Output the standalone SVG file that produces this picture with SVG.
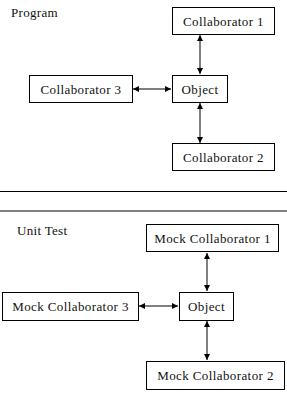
<svg xmlns="http://www.w3.org/2000/svg" width="287" height="394" viewBox="0 0 287 394">
<defs>
<style>
.box{fill:#fff;stroke:#000;stroke-width:1}
.t{font-family:'Liberation Serif','Times New Roman',serif;font-size:13px;letter-spacing:0.4px;fill:#111;text-anchor:middle}
.lbl{font-family:'Liberation Serif','Times New Roman',serif;font-size:13px;letter-spacing:0.3px;fill:#111}
.v{stroke:#808080;stroke-width:2;fill:none}
.h{stroke:#000;stroke-width:1.2;fill:none}
</style>
<marker id="ah" viewBox="0 0 10 10" refX="10" refY="5" markerWidth="6" markerHeight="6" markerUnits="userSpaceOnUse" orient="auto-start-reverse">
<path d="M0,0 L10,5 L0,10 z" fill="#000"/>
</marker>
</defs>
<rect width="287" height="394" fill="#fff"/>
<text class="lbl" x="11" y="17">Program</text>
<text class="lbl" x="17" y="235">Unit Test</text>
<line x1="0" y1="191.5" x2="287" y2="191.5" stroke="#000" stroke-width="1"/>
<line x1="0" y1="211" x2="287" y2="211" stroke="#808080" stroke-width="2"/>
<g id="connectors">
<line class="v" x1="200" y1="35" x2="200" y2="74" marker-start="url(#ah)" marker-end="url(#ah)"/>
<line class="v" x1="200" y1="103" x2="200" y2="143" marker-start="url(#ah)" marker-end="url(#ah)"/>
<line class="h" x1="133" y1="89" x2="171" y2="89" marker-start="url(#ah)" marker-end="url(#ah)"/>
<line class="v" x1="207" y1="253" x2="207" y2="291" marker-start="url(#ah)" marker-end="url(#ah)"/>
<line class="v" x1="207" y1="321" x2="207" y2="360" marker-start="url(#ah)" marker-end="url(#ah)"/>
<line class="h" x1="139" y1="306" x2="178" y2="306" marker-start="url(#ah)" marker-end="url(#ah)"/>
</g>
<g id="collab1"><rect class="box" x="172.5" y="7.5" width="102" height="27"/><text class="t" x="223.5" y="25.5">Collaborator 1</text></g>
<g id="collab3"><rect class="box" x="29.5" y="75.5" width="103" height="27"/><text class="t" x="81" y="93.5">Collaborator 3</text></g>
<g id="object1"><rect class="box" x="172.5" y="75.5" width="55" height="27"/><text class="t" x="200" y="93.5">Object</text></g>
<g id="collab2"><rect class="box" x="172.5" y="143.5" width="102" height="27"/><text class="t" x="223.5" y="161.5">Collaborator 2</text></g>
<g id="mock1"><rect class="box" x="146.5" y="224.5" width="132" height="27"/><text class="t" x="212.5" y="242.5">Mock Collaborator 1</text></g>
<g id="mock3"><rect class="box" x="2.5" y="292.5" width="136" height="28"/><text class="t" x="70.5" y="311">Mock Collaborator 3</text></g>
<g id="object2"><rect class="box" x="179.5" y="292.5" width="54" height="28"/><text class="t" x="206.5" y="311">Object</text></g>
<g id="mock2"><rect class="box" x="146.5" y="361.5" width="138" height="28"/><text class="t" x="215.5" y="380">Mock Collaborator 2</text></g>
</svg>
